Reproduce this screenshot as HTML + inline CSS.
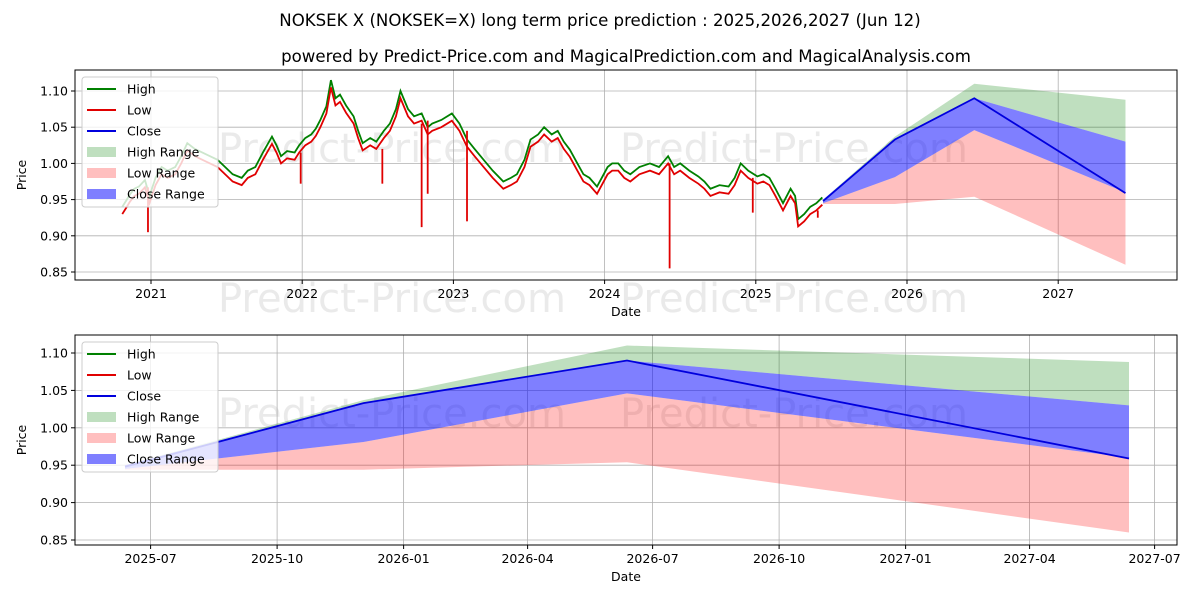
<!DOCTYPE html>
<html><head><meta charset="utf-8">
<style>
body{margin:0;background:#fff;font-family:"Liberation Sans","DejaVu Sans",sans-serif;}
svg text{font-family:"DejaVu Sans","Liberation Sans",sans-serif;}
</style></head>
<body>
<svg id="chart" width="1200" height="600" xmlns="http://www.w3.org/2000/svg">
<rect width="1200" height="600" fill="#fff"/>
<text x="600" y="26" text-anchor="middle" font-size="16.6">NOKSEK X (NOKSEK=X) long term price prediction : 2025,2026,2027 (Jun 12)</text>
<text x="626" y="62" text-anchor="middle" font-size="16.6">powered by Predict-Price.com and MagicalPrediction.com and MagicalAnalysis.com</text>
<g id="top"></g>
<g id="bot"></g>
</svg>
<script>
// ---- historical data (decimal years) ----
const histDates=[2020.81,2020.84,2020.86,2020.89,2020.92,2020.96,2020.99,2021.03,2021.07,2021.11,2021.16,2021.2,2021.24,2021.29,2021.34,2021.39,2021.44,2021.49,2021.54,2021.6,2021.64,2021.69,2021.74,2021.8,2021.83,2021.86,2021.9,2021.95,2021.98,2022.02,2022.06,2022.09,2022.12,2022.16,2022.19,2022.22,2022.25,2022.29,2022.34,2022.37,2022.4,2022.45,2022.49,2022.54,2022.58,2022.62,2022.65,2022.7,2022.74,2022.79,2022.83,2022.86,2022.92,2022.99,2023.04,2023.09,2023.14,2023.2,2023.26,2023.33,2023.38,2023.42,2023.47,2023.51,2023.56,2023.6,2023.65,2023.69,2023.73,2023.77,2023.82,2023.86,2023.9,2023.95,2024.02,2024.05,2024.09,2024.13,2024.17,2024.23,2024.3,2024.36,2024.42,2024.46,2024.5,2024.56,2024.62,2024.66,2024.7,2024.76,2024.82,2024.86,2024.9,2024.95,2025.01,2025.05,2025.09,2025.13,2025.18,2025.23,2025.26,2025.28,2025.32,2025.36,2025.4,2025.44];
const histClose=[0.935,0.945,0.952,0.96,0.963,0.972,0.95,0.975,0.99,0.985,0.99,1.005,1.023,1.015,1.01,1.005,1.0,0.99,0.98,0.975,0.985,0.99,1.01,1.032,1.02,1.005,1.012,1.01,1.02,1.03,1.035,1.043,1.055,1.074,1.11,1.085,1.09,1.075,1.06,1.04,1.023,1.03,1.025,1.04,1.05,1.07,1.095,1.07,1.06,1.064,1.045,1.05,1.055,1.064,1.05,1.028,1.015,1.0,0.985,0.97,0.975,0.98,1.0,1.028,1.035,1.045,1.035,1.04,1.025,1.014,0.995,0.98,0.975,0.963,0.99,0.995,0.995,0.985,0.98,0.99,0.995,0.99,1.005,0.99,0.995,0.985,0.977,0.97,0.96,0.965,0.963,0.975,0.995,0.985,0.977,0.98,0.975,0.96,0.94,0.96,0.95,0.918,0.925,0.935,0.94,0.948];
const spikeDates=[2020.98,2021.99,2022.53,2022.79,2022.83,2023.09,2024.43,2024.98,2025.41];
const spikeLows=[0.905,0.972,0.972,0.912,0.958,0.92,0.855,0.932,0.925];
// ---- forecast data ----
const fcDates=[2025.445,2025.92,2026.445,2027.445];
const fcClose=[0.948,1.033,1.09,0.959];
const fcHighTop=[0.95,1.037,1.11,1.088];
const fcCloseTop=[0.95,1.033,1.09,1.03];
const fcCloseBot=[0.945,0.981,1.046,0.96];
const fcLowBot=[0.944,0.944,0.954,0.86];
const yTicks=[0.85,0.90,0.95,1.00,1.05,1.10];
const topXTicks=[2021,2022,2023,2024,2025,2026,2027];
const botXTickDates=[2025.496,2025.748,2026.0,2026.247,2026.496,2026.748,2027.0,2027.247,2027.496];
const botXTickLabels=["2025-07","2025-10","2026-01","2026-04","2026-07","2026-10","2027-01","2027-04","2027-07"];

const NS="http://www.w3.org/2000/svg";
function el(p,t,a){const e=document.createElementNS(NS,t);for(const k in a)e.setAttribute(k,a[k]);p.appendChild(e);return e;}
function pts(xs,ys,fx,fy){return xs.map((d,i)=>fx(d)+","+fy(ys[i])).join(" ");}
function band(xs,top,bot,fx,fy){return pts(xs,top,fx,fy)+" "+xs.slice().reverse().map((d,i)=>fx(d)+","+fy(bot[bot.length-1-i])).join(" ");}

function panel(g,L,T,R,B,fx,fy,xt,xl,showHist){
  const wm=el(g,"g",{fill:"#e6e6e6","font-size":"40","opacity":"0.8"});
  
  
  el(wm,"text",{x:218,y:T+92}).textContent="Predict-Price.com";
  el(wm,"text",{x:620,y:T+92}).textContent="Predict-Price.com";
  el(wm,"text",{x:218,y:T+242}).textContent=showHist?"Predict-Price.com":"";
  el(wm,"text",{x:620,y:T+242}).textContent=showHist?"Predict-Price.com":"";
  yTicks.forEach(v=>{const y=fy(v);
    const gl=el(g,"line",{x1:L,x2:R,y1:y,y2:y,stroke:"#b0b0b0","stroke-width":0.8});
    
    el(g,"line",{x1:L-4,x2:L,y1:y,y2:y,stroke:"#000"});
    const t=el(g,"text",{x:L-7,y:y+4.5,"text-anchor":"end","font-size":"12.5"});t.textContent=v.toFixed(2);
    });
  xt.forEach((d,i)=>{const x=fx(d);
    const gl=el(g,"line",{x1:x,x2:x,y1:T,y2:B,stroke:"#b0b0b0","stroke-width":0.8});
    
    el(g,"line",{x1:x,x2:x,y1:B,y2:B+4,stroke:"#000"});
    const t=el(g,"text",{x:x,y:B+18,"text-anchor":"middle","font-size":"12.5"});t.textContent=xl[i];
    });
  const hb=el(g,"polygon",{points:band(fcDates,fcHighTop,fcCloseTop,fx,fy),fill:"rgba(0,128,0,0.25)"});
  
  const lb=el(g,"polygon",{points:band(fcDates,fcCloseBot,fcLowBot,fx,fy),fill:"rgba(255,0,0,0.25)"});
  
  const cb=el(g,"polygon",{points:band(fcDates,fcCloseTop,fcCloseBot,fx,fy),fill:"rgba(0,0,255,0.5)"});
  
  if(showHist){
    const hi=el(g,"polyline",{points:pts(histDates,histClose.map(v=>v+0.005),fx,fy),fill:"none",stroke:"#008000","stroke-width":1.8});
    
    const lo=el(g,"polyline",{points:pts(histDates,histClose.map(v=>v-0.005),fx,fy),fill:"none",stroke:"#e00000","stroke-width":1.8});
    
    spikeDates.forEach((d,i)=>{let j=0;while(j<histDates.length-1&&histDates[j+1]<d)j++;
      const base=histClose[j]-0.005;
      const s=el(g,"line",{x1:fx(d),x2:fx(d),y1:fy(base),y2:fy(spikeLows[i]),stroke:"#e00000","stroke-width":1.8});
      });
  }
  const cl=el(g,"polyline",{points:pts(fcDates,fcClose,fx,fy),fill:"none",stroke:"#0000dd","stroke-width":1.8});
  
  el(g,"rect",{x:L,y:T,width:R-L,height:B-T,fill:"none",stroke:"#000","stroke-width":1});
  const yl=el(g,"text",{x:0,y:0,"font-size":"12.5","text-anchor":"middle",transform:`translate(26,${(T+B)/2}) rotate(-90)`});yl.textContent="Price";
  
  const xlab=el(g,"text",{x:(L+R)/2,y:B+36,"font-size":"12.5","text-anchor":"middle"});xlab.textContent="Date";
  
  const lg=el(g,"g",{});
  
  el(lg,"rect",{x:L+7,y:T+7,width:136,height:130,rx:3,fill:"rgba(255,255,255,0.8)",stroke:"#ccc"});
  const items=[["High","line","#008000"],["Low","line","#e00000"],["Close","line","#0000dd"],["High Range","box","rgba(0,128,0,0.25)"],["Low Range","box","rgba(255,0,0,0.25)"],["Close Range","box","rgba(0,0,255,0.5)"]];
  items.forEach((it,i)=>{const y=T+19+i*21;
    if(it[1]=="line")el(lg,"line",{x1:L+12,x2:L+41,y1:y,y2:y,stroke:it[2],"stroke-width":2});
    else el(lg,"rect",{x:L+12,y:y-5,width:29,height:10,fill:it[2]});
    const t=el(lg,"text",{x:L+52,y:y+4.5,"font-size":"12.5"});t.textContent=it[0];
    });
}
panel(document.getElementById("top"),75,70,1177,280,d=>151+(d-2021)*151.2,v=>91+(1.10-v)*724,topXTicks,topXTicks.map(String),true);
panel(document.getElementById("bot"),75,335,1177,545,d=>125+(d-2025.445)*502,v=>353+(1.10-v)*748,botXTickDates,botXTickLabels,false);
</script>
</body></html>
